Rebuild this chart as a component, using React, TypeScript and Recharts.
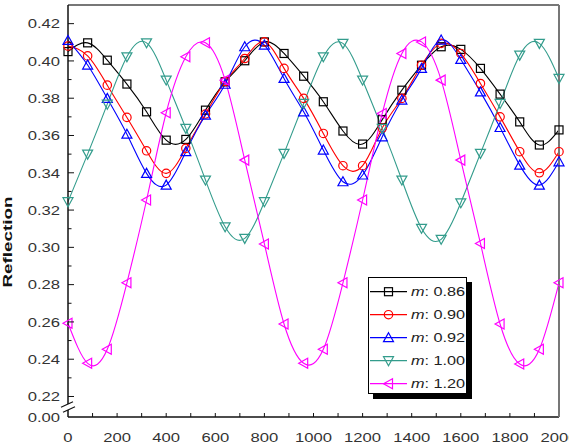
import React from 'react';
import { LineChart, Line, XAxis, YAxis, Legend } from 'recharts';

// sampling positions (one marker every 80)
const positions = [
  0, 80, 160, 240, 320, 400, 480, 560, 640, 720, 800, 880, 960,
  1040, 1120, 1200, 1280, 1360, 1440, 1520, 1600, 1680, 1760, 1840, 1920, 2000,
];

const refl086 = [
  0.405, 0.4097, 0.4004, 0.3876, 0.3727, 0.3575, 0.3579, 0.3736, 0.3888, 0.4001, 0.4102, 0.404, 0.3918,
  0.3781, 0.3624, 0.3554, 0.3685, 0.3843, 0.3977, 0.4076, 0.4062, 0.396, 0.3822, 0.3673, 0.3549, 0.363,
];
const refl090 = [
  0.408, 0.4027, 0.387, 0.3697, 0.3518, 0.3397, 0.3531, 0.3715, 0.389, 0.4013, 0.4102, 0.396, 0.3799,
  0.3611, 0.3438, 0.3438, 0.364, 0.3799, 0.3977, 0.4094, 0.404, 0.3879, 0.37, 0.3513, 0.34, 0.3513,
];
const refl092 = [
  0.411, 0.3978, 0.3799, 0.3607, 0.3397, 0.3334, 0.3513, 0.3709, 0.3875, 0.4076, 0.4085, 0.3906, 0.3727,
  0.3522, 0.3352, 0.3388, 0.3593, 0.379, 0.396, 0.4112, 0.4008, 0.3834, 0.3643, 0.3441, 0.3334, 0.3459,
];
const refl100 = [
  0.3245, 0.35, 0.3768, 0.4022, 0.4097, 0.3897, 0.3638, 0.3361, 0.311, 0.3048, 0.3245, 0.3504, 0.3772,
  0.4022, 0.4094, 0.3897, 0.3638, 0.3361, 0.3102, 0.3043, 0.3239, 0.3504, 0.3772, 0.4031, 0.4094, 0.3906,
];
const refl120 = [
  0.2593, 0.2378, 0.2453, 0.281, 0.3254, 0.3722, 0.4022, 0.4097, 0.3897, 0.3468, 0.3018, 0.2589, 0.2378,
  0.2453, 0.281, 0.3254, 0.3718, 0.404, 0.4102, 0.3897, 0.3468, 0.3021, 0.2589, 0.2374, 0.2453, 0.281,
];

const mLabels = ['0.86', '0.90', '0.92', '1.00', '1.20'];

const xTicks = [
  0, 100, 200, 300, 400, 500, 600, 700, 800, 900, 1000,
  1100, 1200, 1300, 1400, 1500, 1600, 1700, 1800, 1900, 2000,
];
const xLabelTicks = [0, 200, 400, 600, 800, 1000, 1200, 1400, 1600, 1800, 2000];

const yMajorTicks = [0.22, 0.24, 0.26, 0.28, 0.3, 0.32, 0.34, 0.36, 0.38, 0.4, 0.42];
const yMinorTicks = [0.23, 0.25, 0.27, 0.29, 0.31, 0.33, 0.35, 0.37, 0.39, 0.41];
const yFloor = 0.209;
const yFloorLabel = '0.00';
const yTop = 0.43;
const yBreak = 0.2145;

type Shape = 'square' | 'circle' | 'up' | 'down' | 'left';

const series: { key: string; values: number[]; color: string; shape: Shape }[] = [
  { key: 'm086', values: refl086, color: '#000000', shape: 'square' },
  { key: 'm090', values: refl090, color: '#ff0000', shape: 'circle' },
  { key: 'm092', values: refl092, color: '#0000ff', shape: 'up' },
  { key: 'm100', values: refl100, color: '#339c8c', shape: 'down' },
  { key: 'm120', values: refl120, color: '#ff00ff', shape: 'left' },
];

const data = positions.map((x, i) => {
  const row: Record<string, number> = { x };
  series.forEach((s) => {
    row[s.key] = s.values[i];
  });
  return row;
});

const FONT = '"Liberation Sans", Arial, sans-serif';
const AXIS = '#111';

const Marker = ({ shape, cx, cy, color }: { shape: Shape; cx: number; cy: number; color: string }) => {
  const common = { fill: 'none', stroke: color, strokeWidth: 1.2 };
  switch (shape) {
    case 'square':
      return <rect x={cx - 4} y={cy - 4} width={8} height={8} {...common} />;
    case 'circle':
      return <circle cx={cx} cy={cy} r={4.2} {...common} />;
    case 'up':
      return <polygon points={`${cx},${cy - 5} ${cx + 5},${cy + 4} ${cx - 5},${cy + 4}`} {...common} />;
    case 'down':
      return <polygon points={`${cx - 5},${cy - 4} ${cx + 5},${cy - 4} ${cx},${cy + 5}`} {...common} />;
    default:
      return <polygon points={`${cx - 5},${cy} ${cx + 4},${cy - 5} ${cx + 4},${cy + 5}`} {...common} />;
  }
};

// "//" mark where the value axis is broken
const BreakMark = ({ x, y }: { x: number; y: number }) => (
  <g>
    <rect x={x - 2} y={y - 2.7} width={4} height={5.9} fill="#fff" />
    <line x1={x - 7} y1={y + 0.5} x2={x + 5} y2={y - 5} stroke={AXIS} strokeWidth={1.1} />
    <line x1={x - 5} y1={y + 5.5} x2={x + 7} y2={y} stroke={AXIS} strokeWidth={1.1} />
  </g>
);

const XTick = (props: any) => {
  const { x, y, payload } = props;
  const v = payload.value as number;
  return (
    <g>
      {v > 0 && v < 2000 && <line x1={x} x2={x} y1={y} y2={y - 4} stroke={AXIS} />}
      {xLabelTicks.includes(v) && (
        <text
          transform={`translate(${x},${y + 20}) scale(1.28,1)`}
          textAnchor="middle"
          dominantBaseline="central"
          fontSize={13}
          fontFamily={FONT}
          fill="#333"
        >
          {v}
        </text>
      )}
    </g>
  );
};

const YTick = (props: any) => {
  const { x, y, payload } = props;
  const v = payload.value as number;
  if (v === yBreak) return <BreakMark x={x} y={y} />;
  const major = yMajorTicks.some((t) => Math.abs(t - v) < 1e-6);
  const label = v === yFloor ? yFloorLabel : major ? v.toFixed(2) : null;
  return (
    <g>
      {v !== yFloor && <line x1={x} x2={x + (major ? 6 : 3.5)} y1={y} y2={y} stroke={AXIS} />}
      {label && (
        <text
          transform={`translate(${x - 8},${y}) scale(1.28,1)`}
          textAnchor="end"
          dominantBaseline="central"
          fontSize={13}
          fontFamily={FONT}
          fill="#333"
        >
          {label}
        </text>
      )}
    </g>
  );
};

const RightTick = (props: any) => <BreakMark x={props.x} y={props.y} />;

const YLabel = () => (
  <text
    transform="translate(12,242) rotate(-90) scale(1.45,1)"
    textAnchor="middle"
    fontSize={13}
    fontWeight="bold"
    fontFamily={FONT}
    fill="#111"
  >
    Reflection
  </text>
);

const LegendBox = () => (
  <div
    style={{
      width: 99,
      height: 117,
      boxSizing: 'border-box',
      border: '1px solid #000',
      boxShadow: '5px 5px 0 #000',
      background: '#fff',
    }}
  >
    <svg width={97} height={115}>
      {series.map((s, i) => {
        const cy = 13.7 + i * 23;
        return (
          <g key={s.key}>
            <line x1={1} x2={38} y1={cy} y2={cy} stroke={s.color} strokeWidth={1.2} />
            <Marker shape={s.shape} cx={19.5} cy={cy} color={s.color} />
            <text
              transform={`translate(42,${cy}) scale(1.25,1)`}
              dominantBaseline="central"
              fontSize={13}
              fontFamily={FONT}
              fill="#222"
            >
              <tspan fontStyle="italic">m</tspan>: {mLabels[i]}
            </text>
          </g>
        );
      })}
    </svg>
  </div>
);

export default function App() {
  return (
    <div style={{ position: 'absolute', left: 0, top: 0, background: '#fff' }}>
      <LineChart width={569} height={445} data={data} margin={{ top: 0, right: 0, bottom: 0, left: 0 }}>
        <XAxis
          dataKey="x"
          type="number"
          domain={[0, 2000]}
          ticks={xTicks}
          interval={0}
          height={28}
          tickSize={0}
          tickMargin={0}
          tickLine={false}
          tick={XTick}
          axisLine={{ stroke: AXIS, strokeWidth: 1.5 }}
        />
        <XAxis
          xAxisId="top"
          orientation="top"
          type="number"
          domain={[0, 2000]}
          height={5}
          tick={false}
          tickLine={false}
          axisLine={{ stroke: '#777', strokeWidth: 2 }}
        />
        <YAxis
          type="number"
          domain={[yFloor, yTop]}
          ticks={[yFloor, yBreak, ...yMajorTicks, ...yMinorTicks]}
          interval={0}
          width={68}
          tickSize={0}
          tickMargin={0}
          tickLine={false}
          tick={YTick}
          axisLine={{ stroke: AXIS, strokeWidth: 1.5 }}
          label={{ content: YLabel }}
        />
        <YAxis
          yAxisId="right"
          orientation="right"
          type="number"
          domain={[yFloor, yTop]}
          ticks={[yBreak]}
          interval={0}
          width={10}
          tickSize={0}
          tickMargin={0}
          tickLine={false}
          tick={RightTick}
          axisLine={{ stroke: '#777', strokeWidth: 2 }}
        />
        {series.map((s) => (
          <Line
            key={s.key}
            type="natural"
            dataKey={s.key}
            stroke={s.color}
            strokeWidth={1.1}
            isAnimationActive={false}
            activeDot={false}
            dot={(p: any) => (
              <Marker key={`${s.key}-${p.index}`} shape={s.shape} cx={p.cx} cy={p.cy} color={s.color} />
            )}
          />
        ))}
        <Legend
          layout="horizontal"
          verticalAlign="middle"
          align="center"
          wrapperStyle={{ left: 368, top: 277, width: 99, height: 117 }}
          content={() => <LegendBox />}
        />
      </LineChart>
    </div>
  );
}
